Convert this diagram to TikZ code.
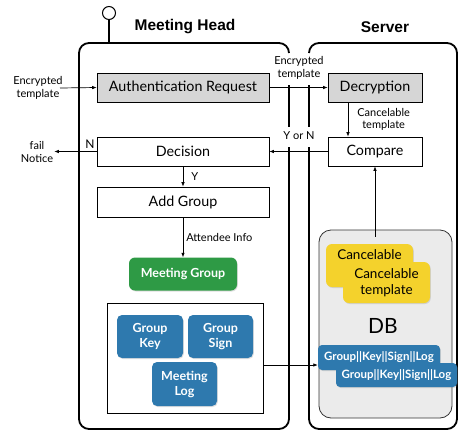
\documentclass[tikz,border=0pt]{standalone}
\usepackage{fontspec}
\setmainfont{Lato}
\newfontfamily\titlefont{Liberation Sans}
\usetikzlibrary{arrows.meta,shadows}

\definecolor{boxgray}{HTML}{D6D6D6}
\definecolor{meetgreen}{HTML}{2E9A45}
\definecolor{cardblue}{HTML}{2E79AE}
\definecolor{cardyellow}{HTML}{F4D22C}
\definecolor{dbgray}{HTML}{EBEBEB}

\tikzset{
  panel/.style={line width=1.8pt, rounded corners=10pt},
  title/.style={font=\titlefont\bfseries\fontsize{15.5}{18}\selectfont},
  procbox/.style={draw, line width=0.6pt, minimum width=172pt, minimum height=29pt,
    inner sep=0pt, font=\fontsize{14.3}{16}\selectfont},
  graybox/.style={procbox, fill=boxgray},
  small/.style={font=\fontsize{11}{12.5}\selectfont, align=center, inner sep=1pt},
  arr/.style={-{Latex[length=4.5pt,width=3.5pt]}, line width=0.7pt},
  softshadow/.style={drop shadow={shadow xshift=0.8pt, shadow yshift=-1pt, opacity=0.25}},
  bluecard/.style={fill=cardblue, rounded corners=5pt, text=white, align=center,
    inner sep=0pt, font=\bfseries\fontsize{12.5}{15}\selectfont, softshadow},
  yellowcard/.style={fill=cardyellow, rounded corners=6pt, align=center, inner sep=0pt,
    minimum width=87pt, font=\fontsize{13.5}{15.5}\selectfont, softshadow},
}

\begin{document}
\begin{tikzpicture}[x=1pt, y=-1pt]
\useasboundingbox (0,0) rectangle (459,432);

% device pin above the meeting head
\node[draw, circle, line width=1pt, minimum size=13pt, inner sep=0pt] (pin) at (109,13) {};
\draw[line width=1.8pt] (pin.south) -- (109,43);

% panel outlines
\draw[panel] (289,53) |- (79,43) |- (289,429) -- (289,147);
\draw[panel] (289,85) -- (289,127);
\draw[panel] (309,53) |- (457,43) |- (309,429) -- (309,147);
\draw[panel] (309,85) -- (309,127);

\node[title] (mhtitle) at (185,27) {Meeting Head};
\node[title] (svtitle) at (385,27) {Server};

% meeting head flow
\node[graybox] (auth) at (183,87.5) {Authentication Request};
\node[procbox] (decision) at (183,151.5) {Decision};
\node[procbox, minimum height=30pt] (addgroup) at (183,202) {Add Group};
\node[fill=meetgreen, rounded corners=6pt, minimum width=108pt, minimum height=33pt,
  text=white, font=\bfseries\fontsize{12.5}{14}\selectfont, softshadow] (mgroup) at (183,274) {Meeting Group};

\node[draw, line width=0.6pt, minimum width=156pt, minimum height=110pt] (frame) at (185,358) {};
\node[bluecard, minimum width=66pt, minimum height=43pt] (gkey) at (150,336.5) {Group\\Key};
\node[bluecard, minimum width=65pt, minimum height=43pt] (gsign) at (220.5,336.5) {Group\\Sign};
\node[bluecard, minimum width=65pt, minimum height=44pt] (mlog) at (184.5,384) {Meeting\\Log};

% server flow
\node[graybox, minimum width=94pt] (decr) at (375,87.5) {Decryption};
\node[procbox, minimum width=94pt] (compare) at (375,151.5) {Compare};

\node[draw=black!80, fill=dbgray, line width=0.8pt, rounded corners=12pt,
  minimum width=133pt, minimum height=188pt] (db) at (385.5,324) {};
\node[yellowcard, minimum height=43pt,
  label={[anchor=north, inner sep=0pt, yshift=-6pt, font=\fontsize{13.5}{15.5}\selectfont]north:Cancelable}] (ycard1) at (369.5,265.5) {};
\node[yellowcard, minimum height=41pt] (ycard2) at (386.5,282.5) {Cancelable\\template};
\node[font=\fontsize{21}{23}\selectfont] (dblabel) at (383,326) {DB};
\node[bluecard, rounded corners=4pt, minimum width=122pt, minimum height=25pt,
  font=\bfseries\fontsize{11.5}{13}\selectfont] (rec1) at (379,357.5) {Group||Key||Sign||Log};
\node[bluecard, rounded corners=4pt, minimum width=121pt, minimum height=24pt,
  font=\bfseries\fontsize{11.5}{13}\selectfont] (rec2) at (396.5,375) {Group||Key||Sign||Log};

% outside labels
\node[small] (encin) at (38,88) {Encrypted\\template};
\node[small] (fail) at (37,152) {fail\\Notice};
\coordinate (encstart) at (60,88);

% connectors
\draw[arr] (encstart) -- (auth.west);
\draw[arr] (auth.east) -- (decr.west);
\node[small, fill=white] (enclabel) at (299,68) {Encrypted\\template};
\draw[arr] ([xshift=-27pt]decr.south) -- ([xshift=-27pt]decr.south |- compare.north)
  node[midway, right=8pt, small] (canclabel) {Cancelable\\template};
\draw[arr] (compare.west) -- (decision.east);
\node[small, fill=white] (ynlabel) at (299,136) {Y or N};
\draw[arr] (decision.west) -- (fail.east |- decision.west);
\node[small, font=\fontsize{12}{13}\selectfont] (nlabel) at (90,144) {N};
\draw[arr] (decision.south) -- (addgroup.north) node[midway, right=7pt, small] (ylabel) {Y};
\draw[arr] (addgroup.south) -- (mgroup.north) node[midway, right=2pt, small, anchor=west] (attlabel) {Attendee Info};
\draw[arr] ([yshift=-7pt]db.north -| compare.south) -- (compare.south);
\draw[arr] ([yshift=-7pt]frame.east) -- ([yshift=-7pt]frame.east -| rec1.west);
\end{tikzpicture}
\end{document}
